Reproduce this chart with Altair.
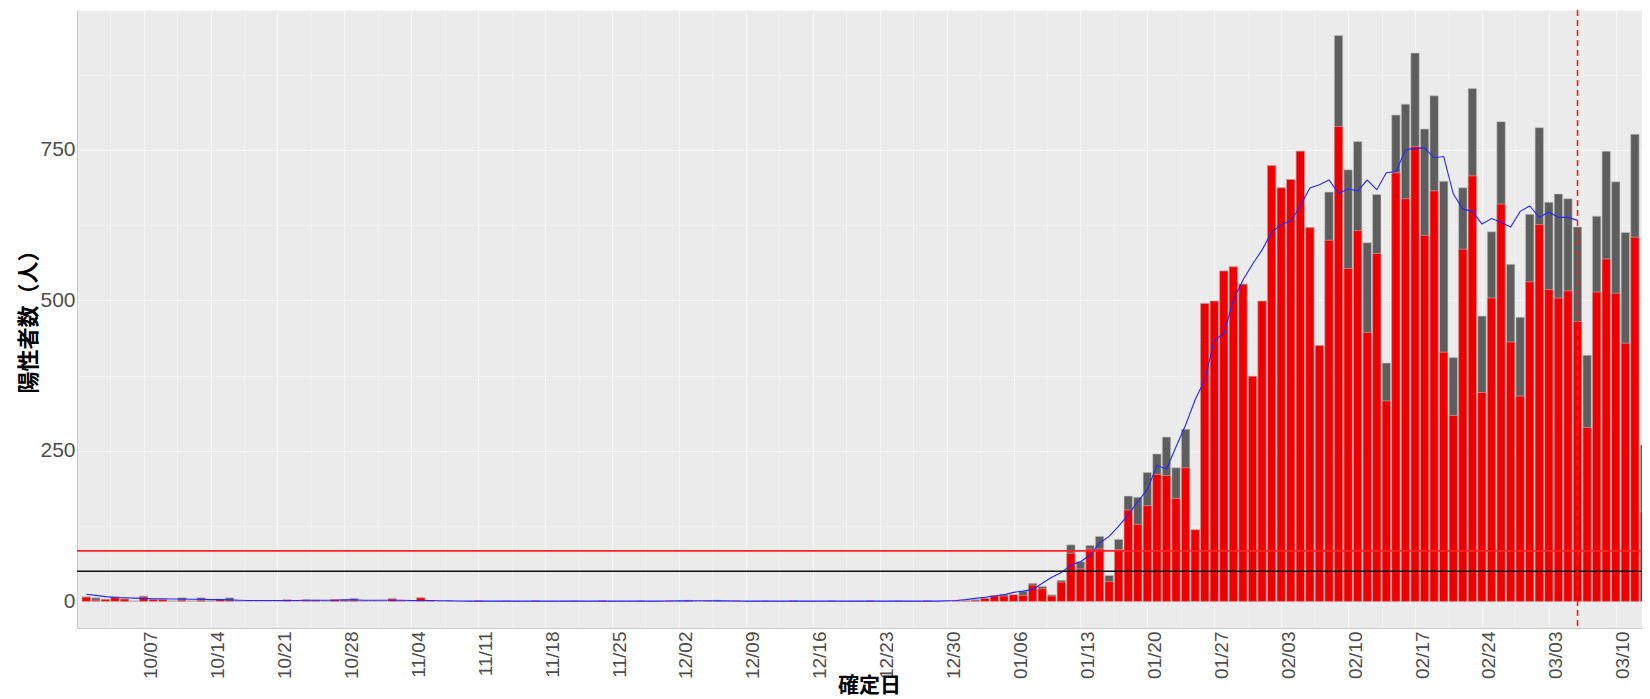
import altair as alt
import pandas as pd

# ---------------- data ----------------
dates = pd.date_range("2021-10-01", "2022-03-13", freq="D").strftime("%Y-%m-%d").tolist()

total = (
    [8]
    + [6, 4, 8, 5, 1, 9, 4, 4, 1, 6, 1, 6, 1, 4, 6, 1, 0, 1, 0, 0, 3, 0, 3, 2, 1, 3, 3, 5, 1, 1, 0]
    + [5, 1, 0, 6, 1, 0, 1, 0, 0, 1, 0, 0, 1, 0, 0, 1, 0, 0, 0, 1, 0, 0, 1, 0, 0, 0, 1, 0, 0, 1]
    + [1, 2, 0, 1, 2, 0, 1, 0, 0, 1, 0, 0, 1, 0, 0, 0, 1, 0, 0, 0, 1, 0, 0, 1, 0, 0, 1, 0, 0, 1, 1]
    + [3, 6, 10, 12, 11, 17, 30, 25, 11, 35, 94, 66, 93, 108, 43, 103, 175, 173, 214, 245,
       273, 222, 286, 119, 495, 499, 549, 556, 527, 374, 499]
    + [724, 687, 701, 748, 621, 425, 680, 940, 717, 764, 596, 676, 396, 808, 826, 911, 785, 840,
       698, 405, 687, 852, 474, 614, 797, 560, 472, 643]
    + [787, 663, 677, 669, 622, 409, 640, 748, 697, 613, 776, 260]
)

red = (
    [7]
    + [2, 3, 6, 4, 0, 7, 3, 3, 0, 2, 0, 1, 0, 3, 2, 0, 0, 0, 0, 0, 2, 0, 1, 2, 0, 3, 1, 2, 0, 0, 0]
    + [4, 1, 0, 6, 1, 0, 0, 0, 0, 1, 0, 0, 0, 0, 0, 1, 0, 0, 0, 0, 0, 0, 1, 0, 0, 0, 0, 0, 0, 1]
    + [0, 1, 0, 1, 0, 0, 1, 0, 0, 0, 0, 0, 1, 0, 0, 0, 0, 0, 0, 0, 1, 0, 0, 0, 0, 0, 1, 0, 0, 1, 1]
    + [2, 5, 9, 9, 11, 10, 27, 21, 9, 32, 80, 54, 87, 87, 33, 86, 152, 128, 159, 211,
       209, 171, 222, 119, 495, 499, 549, 556, 527, 374, 499]
    + [724, 687, 701, 748, 621, 425, 600, 789, 553, 616, 447, 578, 333, 712, 669, 756, 608, 682,
       414, 309, 585, 707, 347, 504, 660, 431, 341, 531]
    + [626, 518, 504, 516, 465, 289, 514, 569, 512, 429, 605, 149]
)

# 7-day average line (first 157 days)
ma7 = (
    [12]
    + [10, 8, 6.5, 6, 5.5, 5, 4.5, 4.5, 4, 4, 3.5, 3.5, 3, 3, 2.5, 2, 1.5, 1.5, 1.5, 1.5,
       1.5, 1.5, 2, 2, 2, 2, 2.5, 2.5, 2, 2, 2]
    + [2, 2, 1.5, 1.5, 1.5, 1, 1, 0.7, 0.5, 0.5, 0.5, 0.5, 0.5, 0.5, 0.5, 0.5, 0.5, 0.5, 0.5, 0.5,
       0.5, 0.5, 0.5, 0.5, 0.5, 0.5, 0.5, 0.5, 0.5, 0.6]
    + [0.8, 0.9, 1, 1, 0.9, 0.8, 0.7, 0.5, 0.5, 0.5, 0.5, 0.5, 0.5, 0.4, 0.4, 0.4, 0.4, 0.4, 0.4, 0.4,
       0.4, 0.4, 0.4, 0.4, 0.4, 0.4, 0.4, 0.5, 1, 1.5, 3]
    + [5, 7, 9, 11, 15, 17, 20, 30, 40, 48, 60, 66, 77, 97, 108, 125, 144, 166, 186, 226,
       220, 257, 293, 335, 368, 434, 445, 501, 534, 560, 584]
    + [613, 626, 632, 657, 687, 692, 700, 678, 685, 682, 700, 684, 712, 714, 750, 753, 753, 737,
       739, 677, 652, 648, 627, 636, 630, 622, 648, 657]
    + [638, 647, 638, 638, 633]
)

tick_dates = ["2021-10-07", "2021-10-14", "2021-10-21", "2021-10-28", "2021-11-04", "2021-11-11",
              "2021-11-18", "2021-11-25", "2021-12-02", "2021-12-09", "2021-12-16", "2021-12-23",
              "2021-12-30", "2022-01-06", "2022-01-13", "2022-01-20", "2022-01-27", "2022-02-03",
              "2022-02-10", "2022-02-17", "2022-02-24", "2022-03-03", "2022-03-10"]
y_ticks = [0, 250, 500, 750]
y_minor = [125, 375, 625, 875]

thresholds = [84, 50]
threshold_colors = ["#ff2222", "#111111"]
marker_date = ["2022-03-06"]

assert len(total) == len(dates) == len(red)

# ---------------- frames ----------------
df = pd.DataFrame({"date": dates, "total": total, "red": red})
df_line = pd.DataFrame({"date": dates[:len(ma7)], "ma7": ma7})


def dt(s, hours=0):
    y, m, d = (int(v) for v in s.split("-"))
    return alt.DateTime(year=y, month=m, date=d, hours=hours, utc=True)


major_vals = [dt(s) for s in tick_dates]
minor_ts = pd.to_datetime(tick_dates)
minor_vals = [dt((t - pd.Timedelta(days=4)).strftime("%Y-%m-%d"), 12) for t in minor_ts]

xscale = alt.Scale(type="utc",
                   domain=[alt.DateTime(year=2021, month=9, date=30, hours=13, minutes=16, utc=True),
                           alt.DateTime(year=2022, month=3, date=12, hours=5, minutes=17, utc=True)])
yscale = alt.Scale(domain=[-44.2, 982.5], zero=False, nice=False)

LAB = "Liberation Sans"
CJK = "Noto Sans CJK JP"

x_axis = alt.Axis(values=major_vals, format="%m/%d", labelAngle=-90, labelFont=LAB,
                  labelFontSize=19, labelColor="#4d4d4d", labelPadding=3, labelOffset=7,
                  ticks=False, domainColor="#c9c9c9", domainWidth=1, grid=True,
                  gridColor="#ffffff", gridWidth=1.2, gridOpacity=0.55, labelOverlap=False,
                  title="確定日", titleFont=CJK, titleFontSize=21, titleFontWeight="bold",
                  titleColor="#000000", titleBaseline="middle", titleY=57, titleX=792)
y_axis = alt.Axis(values=y_ticks, labelFont=LAB, labelFontSize=21, labelColor="#4d4d4d",
                  labelPadding=2, ticks=False, domainColor="#c9c9c9", domainWidth=1,
                  grid=True, gridColor="#ffffff", gridWidth=1.2, gridOpacity=0.55,
                  title="陽性者数（人）", titleFont=CJK, titleFontSize=22, titleFontWeight="bold",
                  titleColor="#000000", titleBaseline="middle", titleX=-49, titleY=306)
x_minor_axis = alt.Axis(values=minor_vals, orient="top", labels=False, ticks=False, domain=False,
                        grid=True, gridColor="#ffffff", gridWidth=0.6, gridOpacity=0.5, title=None)
y_minor_axis = alt.Axis(values=y_minor, orient="right", labels=False, ticks=False, domain=False,
                        grid=True, gridColor="#ffffff", gridWidth=0.6, gridOpacity=0.5, title=None)

base = alt.Chart(df)

gray_bars = base.mark_bar(color="#5e5e5e", size=8.4, stroke="#c4c4c4", strokeWidth=0.6,
                          clip=True).encode(
    x=alt.X("date:T", scale=xscale, axis=x_axis),
    y=alt.Y("total:Q", scale=yscale, axis=y_axis),
)

red_bars = base.mark_bar(color="#ee0000", size=8.4, stroke="#d9b0b0", strokeWidth=0.6,
                         clip=True).encode(
    x=alt.X("date:T", axis=x_minor_axis),
    y=alt.Y("red:Q", axis=y_minor_axis),
)

line = alt.Chart(df_line).mark_line(color="#2626ff", strokeWidth=1.1, clip=True).encode(
    x=alt.X("date:T", axis=None),
    y=alt.Y("ma7:Q", axis=None),
)

hlines = alt.Chart(pd.DataFrame({"v": thresholds, "c": threshold_colors})).mark_rule(
    strokeWidth=1.6).encode(
    y=alt.Y("v:Q", axis=None),
    color=alt.Color("c:N", scale=None),
)

vline = alt.Chart(pd.DataFrame({"date": marker_date})).mark_rule(
    color="#ff1a1a", strokeWidth=1.6, strokeDash=[6, 4]).encode(
    x=alt.X("date:T", axis=None),
)

chart = alt.layer(gray_bars, red_bars, line, hlines, vline).resolve_axis(
    x="independent", y="independent"
).properties(
    width=1565, height=618,
    autosize=alt.AutoSizeParams(type="none"),
    padding={"left": 69, "top": 2, "right": 0, "bottom": 71},
).configure_view(fill="#ebebeb", stroke="transparent")

chart.save("out.html", embed_options={"renderer": "svg", "actions": False})
